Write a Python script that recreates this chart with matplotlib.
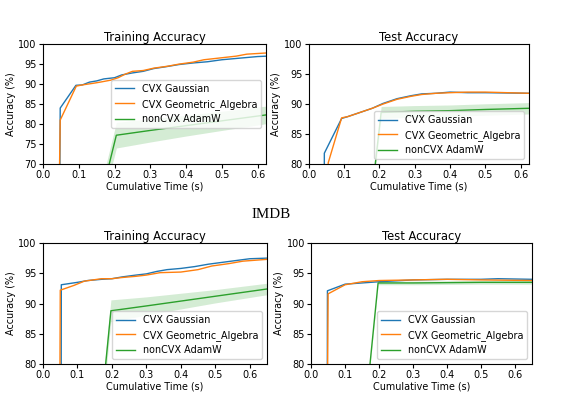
import numpy as np
import matplotlib.pyplot as plt

# --- top row: training / test accuracy vs cumulative time ---
top_gauss_train_t = [0.046, 0.048, 0.092, 0.11, 0.13, 0.15, 0.17, 0.20, 0.22, 0.25, 0.28, 0.31, 0.34, 0.38, 0.42, 0.46, 0.50, 0.55, 0.60, 0.625]
top_gauss_train_acc = [50, 84.0, 89.7, 89.8, 90.5, 90.8, 91.3, 91.6, 92.3, 92.8, 93.2, 93.9, 94.3, 94.9, 95.3, 95.6, 96.1, 96.5, 96.9, 97.0]
top_geo_train_t = [0.043, 0.048, 0.093, 0.11, 0.14, 0.16, 0.19, 0.21, 0.23, 0.25, 0.28, 0.31, 0.35, 0.38, 0.42, 0.45, 0.50, 0.54, 0.57, 0.625]
top_geo_train_acc = [50, 81.0, 89.5, 89.8, 90.2, 90.5, 91.0, 91.6, 92.5, 93.2, 93.4, 94.0, 94.5, 95.0, 95.5, 96.1, 96.6, 97.0, 97.5, 97.8]
top_adam_train_t = [0.13, 0.205, 0.30, 0.40, 0.50, 0.625]
top_adam_train_acc = [50, 77.2, 78.4, 79.6, 80.8, 82.3]
top_adam_train_std = [3.0, 3.2, 2.9, 2.6, 2.4, 2.2]

top_gauss_test_t = [0.043, 0.044, 0.093, 0.11, 0.14, 0.18, 0.21, 0.25, 0.29, 0.32, 0.36, 0.40, 0.45, 0.50, 0.625]
top_gauss_test_acc = [50, 81.8, 87.6, 87.9, 88.5, 89.3, 90.1, 90.9, 91.4, 91.7, 91.8, 92.0, 91.9, 91.9, 91.8]
top_geo_test_t = [0.052, 0.055, 0.093, 0.11, 0.14, 0.18, 0.21, 0.25, 0.29, 0.32, 0.36, 0.40, 0.45, 0.50, 0.625]
top_geo_test_acc = [50, 80.2, 87.7, 87.9, 88.5, 89.3, 90.0, 90.8, 91.3, 91.6, 91.8, 91.9, 92.0, 92.0, 91.8]
top_adam_test_t = [0.13, 0.205, 0.30, 0.40, 0.50, 0.625]
top_adam_test_acc = [50, 88.6, 88.8, 88.9, 89.1, 89.3]
top_adam_test_std = [1.0, 1.0, 0.95, 0.95, 0.95, 0.95]

# --- bottom row: IMDB ---
imdb_gauss_train_t = [0.052, 0.053, 0.10, 0.13, 0.17, 0.20, 0.23, 0.27, 0.30, 0.33, 0.36, 0.40, 0.44, 0.48, 0.52, 0.56, 0.60, 0.65]
imdb_gauss_train_acc = [50, 93.1, 93.5, 93.8, 94.0, 94.1, 94.4, 94.7, 94.9, 95.3, 95.6, 95.8, 96.1, 96.5, 96.8, 97.1, 97.4, 97.5]
imdb_geo_train_t = [0.047, 0.050, 0.09, 0.12, 0.17, 0.20, 0.23, 0.27, 0.30, 0.34, 0.40, 0.45, 0.49, 0.54, 0.58, 0.65]
imdb_geo_train_acc = [50, 92.2, 93.0, 93.7, 94.1, 94.1, 94.3, 94.5, 94.7, 95.1, 95.2, 95.6, 96.2, 96.6, 97.0, 97.3]
imdb_adam_train_t = [0.13, 0.197, 0.30, 0.40, 0.50, 0.65]
imdb_adam_train_acc = [50, 88.8, 89.6, 90.4, 91.2, 92.4]
imdb_adam_train_std = [1.8, 1.8, 1.5, 1.3, 1.1, 0.95]

imdb_gauss_test_t = [0.047, 0.048, 0.10, 0.20, 0.30, 0.40, 0.50, 0.55, 0.65]
imdb_gauss_test_acc = [50, 92.1, 93.2, 93.6, 93.9, 94.0, 94.0, 94.1, 94.0]
imdb_geo_test_t = [0.045, 0.050, 0.10, 0.15, 0.20, 0.30, 0.40, 0.50, 0.65]
imdb_geo_test_acc = [50, 91.6, 93.1, 93.6, 93.8, 93.9, 94.0, 93.9, 93.8]
imdb_adam_test_t = [0.12, 0.197, 0.30, 0.40, 0.50, 0.65]
imdb_adam_test_acc = [50, 93.4, 93.4, 93.45, 93.5, 93.5]
imdb_adam_test_std = [0.3, 0.3, 0.3, 0.3, 0.3, 0.3]

labels = ['CVX Gaussian', 'CVX Geometric_Algebra', 'nonCVX AdamW']

plt.rcParams['font.size'] = 7


def draw(ax, title, gauss, geo, adam, ylim, xmax, leg_loc):
    ax.plot(gauss[0], gauss[1], color='C0', lw=1, label=labels[0])
    ax.plot(geo[0], geo[1], color='C1', lw=1, label=labels[1])
    ax.plot(adam[0], adam[1], color='C2', lw=1, label=labels[2])
    m = np.array(adam[1])
    s = np.array(adam[2])
    ax.fill_between(adam[0], m - s, m + s, color='C2', alpha=0.2, lw=0)
    ax.set_xlim(0, xmax)
    ax.set_ylim(*ylim)
    ax.set_title(title, fontsize=8.3, pad=2)
    ax.set_xlabel('Cumulative Time (s)', fontsize=6.9, labelpad=1)
    ax.set_ylabel('Accuracy (%)', fontsize=6.9, labelpad=2)
    ax.tick_params(labelsize=7, length=3, pad=1.5)
    ax.legend(loc=leg_loc, fontsize=6.9)


fig = plt.figure(figsize=(5.74, 3.98), dpi=100)
ax1 = fig.add_axes([0.075, 0.588, 0.388, 0.301])
ax2 = fig.add_axes([0.538, 0.588, 0.383, 0.301])
ax3 = fig.add_axes([0.075, 0.0854, 0.390, 0.304])
ax4 = fig.add_axes([0.542, 0.0854, 0.385, 0.304])

draw(ax1, 'Training Accuracy', (top_gauss_train_t, top_gauss_train_acc),
     (top_geo_train_t, top_geo_train_acc),
     (top_adam_train_t, top_adam_train_acc, top_adam_train_std), (70, 100), 0.623, 'center right')
draw(ax2, 'Test Accuracy', (top_gauss_test_t, top_gauss_test_acc),
     (top_geo_test_t, top_geo_test_acc),
     (top_adam_test_t, top_adam_test_acc, top_adam_test_std), (80, 100), 0.623, 'lower right')
draw(ax3, 'Training Accuracy', (imdb_gauss_train_t, imdb_gauss_train_acc),
     (imdb_geo_train_t, imdb_geo_train_acc),
     (imdb_adam_train_t, imdb_adam_train_acc, imdb_adam_train_std), (80, 100), 0.65, 'lower right')
draw(ax4, 'Test Accuracy', (imdb_gauss_test_t, imdb_gauss_test_acc),
     (imdb_geo_test_t, imdb_geo_test_acc),
     (imdb_adam_test_t, imdb_adam_test_acc, imdb_adam_test_std), (80, 100), 0.65, 'lower right')

fig.text(271 / 574, 1 - 214 / 398, 'IMDB', ha='center', va='center',
         family='Liberation Serif', fontsize=10.8)

fig.savefig('out.png', dpi=100)
